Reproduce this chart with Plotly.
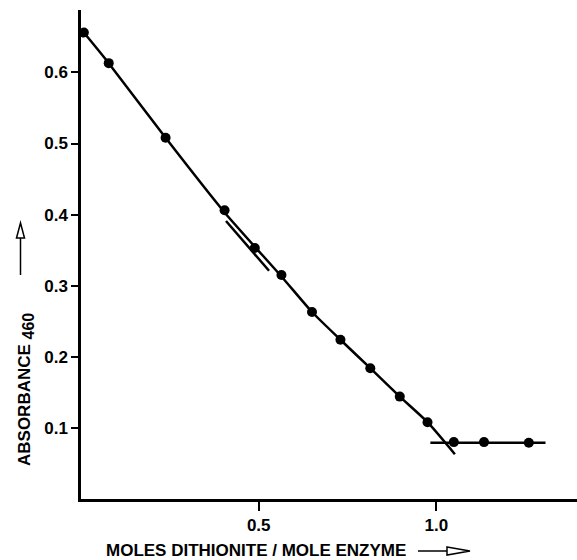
import plotly.graph_objects as go

# ---- data ----
dose_x = [0.008, 0.078, 0.238, 0.404, 0.489, 0.564, 0.650, 0.730, 0.814, 0.897, 0.975, 1.049, 1.134, 1.260]
abs_y = [0.656, 0.613, 0.508, 0.406, 0.353, 0.315, 0.263, 0.224, 0.184, 0.144, 0.108, 0.080, 0.080, 0.079]

curve_x = [0.008, 0.078, 0.238, 0.404, 0.564, 0.650, 0.730, 0.814, 0.897, 0.975, 1.052]
curve_y = [0.656, 0.613, 0.508, 0.403, 0.313, 0.263, 0.224, 0.184, 0.144, 0.108, 0.063]

seg_x = [0.408, 0.529]
seg_y = [0.391, 0.321]

plateau_x = [0.983, 1.307]
plateau_y = [0.079, 0.079]

x_ticks = [0.5, 1.0]
x_ticklabels = ["0.5", "1.0"]
y_ticks = [0.1, 0.2, 0.3, 0.4, 0.5, 0.6]
y_ticklabels = ["0.1", "0.2", "0.3", "0.4", "0.5", "0.6"]

x_title = "<b>MOLES DITHIONITE / MOLE ENZYME</b>"
y_title = "<b>ABSORBANCE <sub><span style='font-size:16px'>460</span></sub></b>"

# ---- layout geometry ----
W, H = 577, 560
ML, MR, MT, MB = 81, 0, 10, 61
PW, PH = W - ML - MR, H - MT - MB
FONT = "Liberation Sans, Arial, sans-serif"
INK = "black"


def px(xp):
    return (xp - ML) / PW


def py(yp):
    return (H - MB - yp) / PH


fig = go.Figure()
fig.add_trace(go.Scatter(x=curve_x, y=curve_y, mode="lines",
                         line=dict(color=INK, width=2.5, shape="spline", smoothing=0.6),
                         hoverinfo="skip", showlegend=False))
fig.add_trace(go.Scatter(x=seg_x, y=seg_y, mode="lines",
                         line=dict(color=INK, width=2.5), hoverinfo="skip", showlegend=False))
fig.add_trace(go.Scatter(x=plateau_x, y=plateau_y, mode="lines",
                         line=dict(color=INK, width=2.5), hoverinfo="skip", showlegend=False))
fig.add_trace(go.Scatter(x=dose_x, y=abs_y, mode="markers",
                         marker=dict(color=INK, size=10), showlegend=False))

tickfont = dict(size=17, family=FONT, color=INK, weight="bold")

fig.update_layout(
    width=W, height=H,
    margin=dict(l=ML, r=MR, t=MT, b=MB),
    paper_bgcolor="white", plot_bgcolor="white",
    font=dict(family=FONT, color=INK, size=17),
    xaxis=dict(range=[0, PW / 355.4], showgrid=False, zeroline=False,
               showline=True, linecolor=INK, linewidth=2.5,
               tickmode="array", tickvals=x_ticks, ticktext=x_ticklabels,
               ticks="outside", ticklen=9, tickwidth=2, tickcolor=INK,
               tickfont=tickfont),
    yaxis=dict(range=[0, PH / 711.0], showgrid=False, zeroline=False,
               showline=True, linecolor=INK, linewidth=2.5,
               tickmode="array", tickvals=y_ticks, ticktext=y_ticklabels,
               ticks="outside", ticklen=7, tickwidth=2, tickcolor=INK,
               tickfont=tickfont),
    annotations=[
        dict(text=x_title, xref="paper", yref="paper", x=px(256), y=py(550),
             xanchor="center", yanchor="middle", showarrow=False,
             font=dict(size=17, family=FONT, color=INK)),
        dict(text=y_title, xref="paper", yref="paper", x=px(26), y=py(390),
             xanchor="center", yanchor="middle", showarrow=False, textangle=-90,
             font=dict(size=17, family=FONT, color=INK)),
    ],
    shapes=[
        # x-title arrow
        dict(type="line", xref="paper", yref="paper", x0=px(418), x1=px(447), y0=py(551), y1=py(551),
             line=dict(color=INK, width=1.5)),
        dict(type="path", xref="paper", yref="paper",
             path=f"M {px(447)} {py(547)} L {px(470)} {py(551)} L {px(447)} {py(555)} Z",
             line=dict(color=INK, width=1.5), fillcolor="white"),
        # y-title arrow
        dict(type="line", xref="paper", yref="paper", x0=px(20.5), x1=px(20.5), y0=py(275), y1=py(238),
             line=dict(color=INK, width=1.5)),
        dict(type="path", xref="paper", yref="paper",
             path=f"M {px(16.5)} {py(238)} L {px(20.5)} {py(223)} L {px(24.5)} {py(238)} Z",
             line=dict(color=INK, width=1.5), fillcolor="white"),
    ],
)

fig.write_html("out.html")
